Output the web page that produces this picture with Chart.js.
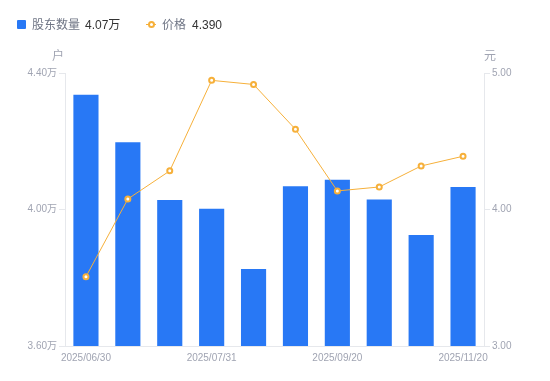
<!DOCTYPE html>
<html>
<head>
<meta charset="utf-8">
<script src="https://cdn.jsdelivr.net/npm/chart.js@4/dist/chart.umd.min.js"></script>
<style>
	body { margin: 0; background: #fff; font-family: Arial, "Liberation Sans", "Noto Sans CJK SC", sans-serif; }
	#wrap { position: relative; width: 550px; height: 381px; }
	#legend { position: absolute; left: 17px; top: 16px; font-size: 12px; line-height: 18px; white-space: nowrap; }
	#legend span { position: absolute; top: 0; }
	.lbl { color: #6f7585; }
	.val { color: #333; }
	.sq { width: 9px; height: 9px; background: #2878f5; border-radius: 1px; top: 4px !important; }
	.mk { width: 10px; height: 1px; background: #f6b03a; top: 8px !important; }
	.mk i { position: absolute; left: 2px; top: -3px; width: 3px; height: 3px; border: 2px solid #f6b03a; border-radius: 50%; background: #fff; }
</style>
</head>
<body>
<div id="wrap">
	<canvas id="chart" width="550" height="381"></canvas>
	<div id="legend">
		<span class="sq" style="left:0"></span>
		<span class="lbl" style="left:15px">股东数量</span>
		<span class="val" id="v1" style="left:68px"></span>
		<span class="mk" style="left:129px"><i></i></span>
		<span class="lbl" style="left:145px">价格</span>
		<span class="val" id="v2" style="left:175px"></span>
	</div>
</div>
<script>
var dates = ["2025/06/30", "2025/07/10", "2025/07/20", "2025/07/31", "2025/08/10",
	"2025/08/31", "2025/09/20", "2025/09/30", "2025/10/31", "2025/11/20"];
// 股东数量 (万户)
var holders = [4.336, 4.197, 4.028, 4.002, 3.826, 4.068, 4.087, 4.029, 3.925, 4.066];
// 价格 (元)
var prices = [3.507, 4.077, 4.283, 4.946, 4.916, 4.588, 4.136, 4.165, 4.319, 4.390];
var leftTicks = [3.6, 4.0, 4.4];
var rightTicks = [3.0, 4.0, 5.0];

var tickColor = "#a0a4b2";
var lineColor = "#e6e8ec";

document.getElementById("v1").textContent = holders[holders.length - 1].toFixed(2) + "万";
document.getElementById("v2").textContent = prices[prices.length - 1].toFixed(3);

// unit labels above the two y axes
var unitTitles = {
	id: "unitTitles",
	afterDraw: function (chart) {
		var ctx = chart.ctx, area = chart.chartArea;
		ctx.save();
		ctx.font = "12px Arial, 'Noto Sans CJK SC', sans-serif";
		ctx.fillStyle = tickColor;
		ctx.textAlign = "center";
		ctx.textBaseline = "middle";
		ctx.fillText("户", area.left - 7, area.top - 16);
		ctx.fillText("元", area.right + 6, area.top - 16);
		ctx.restore();
	}
};

var chartData = {
	labels: dates,
	datasets: [{
		type: "line",
		label: "价格",
		data: prices,
		yAxisID: "y1",
		order: 0,
		borderColor: "#f6b03a",
		borderWidth: 1,
		pointRadius: 2.5,
		pointBorderWidth: 2,
		pointBackgroundColor: "#fff",
		pointBorderColor: "#f6b03a",
		tension: 0
	}, {
		type: "bar",
		label: "股东数量",
		data: holders,
		yAxisID: "y",
		order: 1,
		backgroundColor: "#2878f5",
		categoryPercentage: 1,
		barPercentage: 0.6
	}]
};

var chartOptions = {
	responsive: false,
	animation: false,
	layout: { padding: { top: 73, left: 0, right: 0, bottom: 0 } },
	plugins: {
		legend: { display: false },
		tooltip: { enabled: false }
	},
	scales: {
		x: {
			grid: { display: true, drawOnChartArea: false, tickLength: 0, color: lineColor },
			border: { color: lineColor },
			ticks: {
				autoSkip: false,
				maxRotation: 0,
				padding: 6,
				color: tickColor,
				font: { size: 10, family: "Arial, sans-serif" },
				callback: function (v, i) { return i % 3 === 0 ? dates[i] : ""; }
			},
			afterFit: function (s) { s.height = 35; }
		},
		y: {
			position: "left",
			min: leftTicks[0],
			max: leftTicks[leftTicks.length - 1],
			afterBuildTicks: function (s) { s.ticks = leftTicks.map(function (v) { return { value: v }; }); },
			grid: { drawOnChartArea: false, tickLength: 6, color: lineColor },
			border: { color: lineColor },
			ticks: {
				padding: 2,
				color: tickColor,
				font: { size: 10, family: "Arial, 'Noto Sans CJK SC', sans-serif" },
				callback: function (v) { return v.toFixed(2) + "万"; }
			},
			afterFit: function (s) { s.width = 65; }
		},
		y1: {
			position: "right",
			min: rightTicks[0],
			max: rightTicks[rightTicks.length - 1],
			afterBuildTicks: function (s) { s.ticks = rightTicks.map(function (v) { return { value: v }; }); },
			grid: { drawOnChartArea: false, tickLength: 6, color: lineColor },
			border: { color: lineColor },
			ticks: {
				padding: 2,
				color: tickColor,
				font: { size: 10, family: "Arial, sans-serif" },
				callback: function (v) { return v.toFixed(2); }
			},
			afterFit: function (s) { s.width = 66; }
		}
	}
};

new Chart(document.getElementById("chart"), {
	type: "bar",
	data: chartData,
	options: chartOptions,
	plugins: [unitTitles]
});
</script>
</body>
</html>
